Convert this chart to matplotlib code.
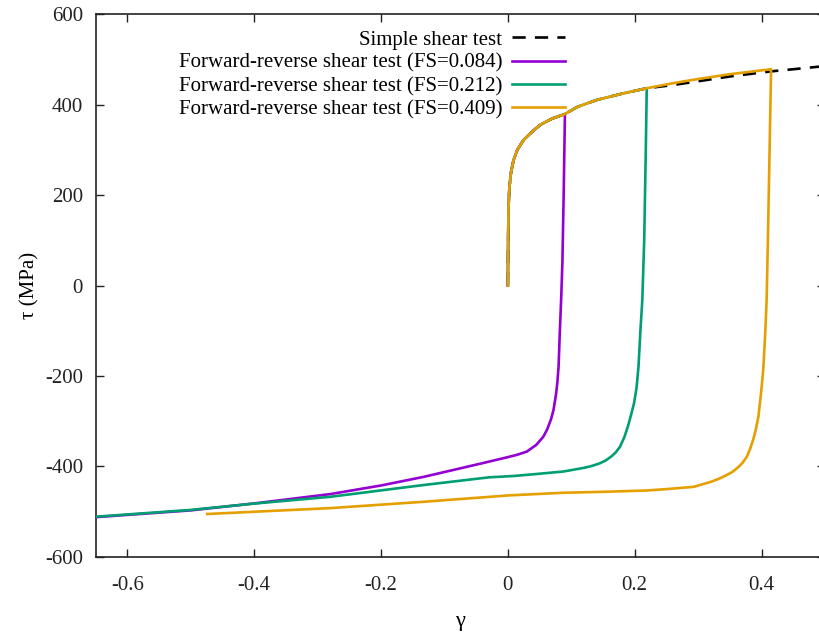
import numpy as np
import matplotlib
matplotlib.use('Agg')
import matplotlib.pyplot as plt
from matplotlib.ticker import FuncFormatter

plt.rcParams['font.family'] = ['Liberation Serif', 'DejaVu Serif']
plt.rcParams['axes.unicode_minus'] = False

# common forward-shear (loading) branch
load_g = [0.0, 0.0005, 0.001, 0.0025, 0.005, 0.009, 0.015, 0.025, 0.04, 0.051, 0.07, 0.09,
          0.11, 0.14, 0.18, 0.219, 0.26, 0.298, 0.35, 0.415]
load_t = [0, 100, 170, 218, 250, 277, 300, 322, 342, 355, 369, 379,
          395, 410, 424, 436, 447, 456, 467, 478]

# simple shear test beyond the FS=0.212 point
ss_g = [0.26, 0.298, 0.35, 0.413, 0.45, 0.50]
ss_t = [443, 451, 462, 473, 478, 485]

# reverse branches
rev084_g = [0.090, 0.088, 0.086, 0.084, 0.082, 0.080, 0.078, 0.076, 0.072, 0.068, 0.062, 0.056,
            0.045, 0.030, 0.015, -0.002, -0.044, -0.133, -0.2, -0.28, -0.396, -0.5, -0.65]
rev084_t = [378, 200, 50, -32, -100, -179, -215, -240, -275, -296, -318, -334,
            -352, -367, -374, -380, -394, -423, -442, -461, -481, -497, -512]

rev212_g = [0.2175, 0.215, 0.212, 0.209, 0.206, 0.203, 0.199, 0.195, 0.190, 0.184, 0.177, 0.170,
            0.163, 0.154, 0.145, 0.132, 0.12, 0.088, 0.05, 0.009, -0.03, -0.133, -0.28, -0.4,
            -0.5, -0.65]
rev212_t = [300, 100, -32, -100, -179, -225, -260, -282, -308, -334, -356, -369,
            -378, -387, -393, -399, -403, -411, -416, -421, -424, -441, -467, -482,
            -496, -511]

rev409_g = [0.415, 0.412, 0.410, 0.408, 0.406, 0.403, 0.401, 0.399, 0.395, 0.391, 0.387, 0.382,
            0.377, 0.370, 0.362, 0.354, 0.345, 0.333, 0.32, 0.293, 0.25, 0.219, 0.15, 0.088,
            0.0, -0.028, -0.133, -0.28, -0.474]
rev409_t = [476, 250, 100, -32, -100, -179, -212, -240, -290, -318, -340, -361,
            -378, -392, -403, -412, -419, -427, -434, -445, -450, -453, -456, -458,
            -464, -467, -478, -492, -505]

fs_vals = [0.084, 0.212, 0.409]
colors = ['#9400D3', '#009E73', '#E69F00']


def branch(fs_end, rg, rt):
    lg = np.array(load_g)
    lt = np.array(load_t)
    k = lg <= fs_end + 0.007
    return np.concatenate([lg[k], rg]), np.concatenate([lt[k], rt])


fig = plt.figure(figsize=(8.19, 6.32), dpi=100)
ax = fig.add_axes([0.1167, 0.1187, 1.0073 - 0.1167, 0.9778 - 0.1187])

lg = np.array(load_g)
m = lg <= 0.219
ax.plot(np.concatenate([lg[m], ss_g]), np.concatenate([np.array(load_t)[m], ss_t]),
        color='black', lw=1.9, dashes=(5, 3.5), label='Simple shear test', zorder=2)

curves = [branch(0.09, rev084_g, rev084_t),
          branch(0.219, rev212_g, rev212_t),
          branch(0.415, rev409_g, rev409_t)]
for (g, t), fs, c in zip(curves, fs_vals, colors):
    ax.plot(g, t, color=c, lw=1.9, label=f'Forward-reverse shear test (FS={fs:.3f})', zorder=3)

ax.set_xlim(-0.65, 0.5)
ax.set_ylim(-600, 600)
ax.set_xticks([-0.6, -0.4, -0.2, 0, 0.2, 0.4])
ax.set_yticks(np.arange(-600, 601, 200))
ax.xaxis.set_major_formatter(FuncFormatter(lambda v, p: f'{v:g}'))
ax.tick_params(direction='in', length=6, width=1, top=True, right=True, labelsize=15,
               colors='#222222')
ax.tick_params(axis='x', pad=14)
ax.tick_params(axis='y', pad=9)
for s in ax.spines.values():
    s.set_linewidth(1.2)
    s.set_color('#222222')

ax.set_xlabel('γ', fontsize=16, labelpad=12)
ax.set_ylabel('τ (MPa)', fontsize=15, labelpad=4)

ax.legend(loc='upper right', bbox_to_anchor=(0.6546, 0.986), frameon=False, markerfirst=False,
          fontsize=15, handlelength=2.55, handletextpad=0.45, labelspacing=0.18,
          borderaxespad=0)

fig.savefig('out.png', dpi=100)
